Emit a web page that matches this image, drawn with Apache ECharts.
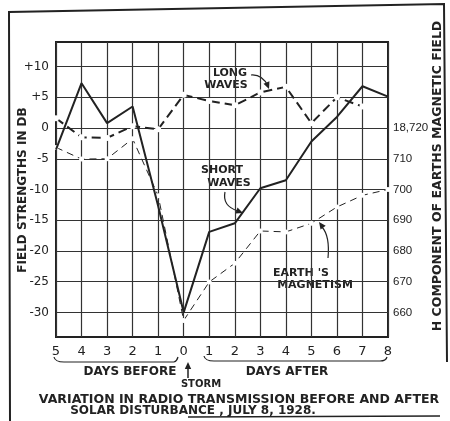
<!DOCTYPE html>
<html>
<head>
<meta charset="utf-8">
<script src="https://cdn.jsdelivr.net/npm/echarts@6/dist/echarts.min.js"></script>
<style>
	html, body { margin: 0; padding: 0; background: #fff; }
	#chart { width: 450px; height: 421px; }
</style>
</head>
<body>
<div id="chart"></div>
<script>
	// days relative to the storm (negative = before)
	const days = [-5, -4, -3, -2, -1, 0, 1, 2, 3, 4, 5, 6, 7, 8]
	// field strength, db
	const shortWaves = [-3.5, 7.3, 0.8, 3.5, -12.7, -30.0, -16.9, -15.5, -9.8, -8.5, -2.2, 1.8, 6.8, 5.1]
	const longWaves = [1.6, -1.5, -1.6, 0.3, -0.2, 5.4, 4.4, 3.7, 5.8, 6.7, 0.8, 5.0, 3.5, null]
	// H component of earth's magnetic field (18,6xx - 18,7xx)
	const magnetism = [713.7, 709.9, 710, 716.5, 698, 657.4, 669.9, 676, 686.5, 686.2, 689, 694.3, 698.1, 700]

	const dbTicks = [-30, -25, -20, -15, -10, -5, 0, 5, 10]
	const hTicks = [660, 670, 680, 690, 700, 710, 720]

	const ink = '#222'
	const font = 'DejaVu Sans'

	const pairs = (arr) => days.map((d, i) => [d, arr[i]])

	function arrowHead(x, y, angle) {
		// small filled triangle pointing along angle
		const l = 7, w = 3.2
		const ca = Math.cos(angle), sa = Math.sin(angle)
		return {
			type: 'polygon',
			shape: {
				points: [
					[x, y],
					[x - l * ca + w * sa, y - l * sa - w * ca],
					[x - l * ca - w * sa, y - l * sa + w * ca]
				]
			},
			style: { fill: ink }
		}
	}

	function txt(x, y, text, size, rotation) {
		return {
			type: 'text',
			x: x,
			y: y,
			rotation: rotation || 0,
			style: {
				text: text,
				font: 'bold ' + size + 'px "' + font + '"',
				fill: ink,
				align: 'center',
				verticalAlign: 'middle'
			}
		}
	}

	const option = {
		backgroundColor: '#fff',
		animation: false,
		grid: {
			left: 56,
			right: 62,
			top: 42,
			bottom: 84,
			outerBoundsMode: 'none',
			containLabel: false,
			show: true,
			borderColor: ink,
			borderWidth: 2
		},
		xAxis: {
			type: 'value',
			min: -5,
			max: 8,
			interval: 1,
			axisLine: { show: false },
			axisTick: { show: false },
			axisLabel: {
				margin: 8,
				color: ink,
				fontFamily: font,
				fontSize: 13,
				formatter: (v) => String(Math.abs(v))
			},
			splitLine: { lineStyle: { color: '#333', width: 1.2 } }
		},
		yAxis: [{
			type: 'value',
			min: -34,
			max: 14,
			axisLine: { show: false },
			axisTick: { show: false, customValues: dbTicks },
			axisLabel: {
				margin: 7,
				color: ink,
				fontFamily: font,
				fontSize: 12,
				customValues: dbTicks,
				formatter: (v) => v > 0 ? '+' + v : String(v)
			},
			splitLine: { lineStyle: { color: '#333', width: 1.2 } }
		}, {
			type: 'value',
			min: 652,
			max: 748,
			axisLine: { show: false },
			axisTick: { show: false, customValues: hTicks },
			axisLabel: {
				margin: 5,
				color: ink,
				fontFamily: 'Liberation Sans',
				fontSize: 11.5,
				customValues: hTicks,
				formatter: (v) => v === 720 ? '18,720' : String(v)
			},
			splitLine: { show: false }
		}],
		series: [{
			name: 'Short waves',
			type: 'line',
			data: pairs(shortWaves),
			symbol: 'none',
			lineStyle: { color: ink, width: 2 },
			z: 5
		}, {
			name: 'Long waves',
			type: 'line',
			data: pairs(longWaves),
			symbol: 'emptyCircle',
			symbolSize: 4,
			itemStyle: { color: '#fff', borderColor: ink, borderWidth: 1 },
			lineStyle: { color: ink, width: 2, type: [9, 5] },
			z: 4
		}, {
			name: "Earth's magnetism",
			type: 'line',
			yAxisIndex: 1,
			data: pairs(magnetism),
			symbol: 'emptyCircle',
			symbolSize: 3,
			itemStyle: { color: '#fff', borderColor: ink, borderWidth: 1 },
			lineStyle: { color: ink, width: 1, type: [7, 5] },
			z: 3
		}],
		graphic: [
			// outer frame
			{ type: 'polyline', shape: { points: [[10, 421], [9, 12], [444, 4], [447, 362]] }, style: { stroke: ink, lineWidth: 2, fill: null } },
			{ type: 'line', shape: { x1: 188, y1: 417, x2: 440, y2: 416 }, style: { stroke: ink, lineWidth: 1.5 } },
			// axis names
			txt(23, 190, 'FIELD STRENGTHS IN DB', 12, Math.PI / 2),
			txt(438, 176, 'H COMPONENT OF EARTHS MAGNETIC FIELD', 12.5, Math.PI / 2),
			// annotations
			txt(230, 73, 'LONG', 11),
			txt(226, 85, 'WAVES', 11),
			{ type: 'bezierCurve', shape: { x1: 251, y1: 75, cpx1: 262, cpy1: 74, x2: 268, y2: 86 }, style: { stroke: ink, lineWidth: 1.2, fill: null } },
			arrowHead(269, 89, 1.2),
			txt(222, 170, 'SHORT', 11),
			txt(229, 183, 'WAVES', 11),
			{ type: 'bezierCurve', shape: { x1: 225, y1: 192, cpx1: 222, cpy1: 206, x2: 238, y2: 211 }, style: { stroke: ink, lineWidth: 1.2, fill: null } },
			arrowHead(243, 213, 0.35),
			txt(301, 273, "EARTH 'S", 11),
			txt(315, 285, 'MAGNETISM', 11),
			{ type: 'bezierCurve', shape: { x1: 328, y1: 258, cpx1: 330, cpy1: 236, x2: 322, y2: 227 }, style: { stroke: ink, lineWidth: 1.2, fill: null } },
			arrowHead(319, 222, -2.2),
			// braces under day numbers
			{ type: 'bezierCurve', shape: { x1: 54, y1: 357, cpx1: 55, cpy1: 362, x2: 64, y2: 362 }, style: { stroke: ink, lineWidth: 1.2, fill: null } },
			{ type: 'line', shape: { x1: 64, y1: 362, x2: 174, y2: 362 }, style: { stroke: ink, lineWidth: 1.2 } },
			{ type: 'bezierCurve', shape: { x1: 174, y1: 362, cpx1: 177, cpy1: 361, x2: 178, y2: 357 }, style: { stroke: ink, lineWidth: 1.2 , fill: null } },
			{ type: 'bezierCurve', shape: { x1: 204, y1: 356, cpx1: 205, cpy1: 361, x2: 214, y2: 361 }, style: { stroke: ink, lineWidth: 1.2, fill: null } },
			{ type: 'line', shape: { x1: 214, y1: 361, x2: 380, y2: 361 }, style: { stroke: ink, lineWidth: 1.2 } },
			{ type: 'bezierCurve', shape: { x1: 380, y1: 361, cpx1: 386, cpy1: 361, x2: 387, y2: 357 }, style: { stroke: ink, lineWidth: 1.2, fill: null } },
			txt(130, 372, 'DAYS BEFORE', 12),
			txt(287, 372, 'DAYS AFTER', 12),
			{ type: 'line', shape: { x1: 188, y1: 365, x2: 188, y2: 378 }, style: { stroke: ink, lineWidth: 1.5 } },
			arrowHead(188, 362, -Math.PI / 2),
			txt(201, 384, 'STORM', 10),
			txt(239, 400, 'VARIATION IN RADIO TRANSMISSION BEFORE AND AFTER', 12.5),
			txt(193, 411, 'SOLAR DISTURBANCE , JULY 8, 1928.', 12)
		]
	}

	const chart = echarts.init(document.getElementById('chart'))
	chart.setOption(option)
</script>
</body>
</html>
